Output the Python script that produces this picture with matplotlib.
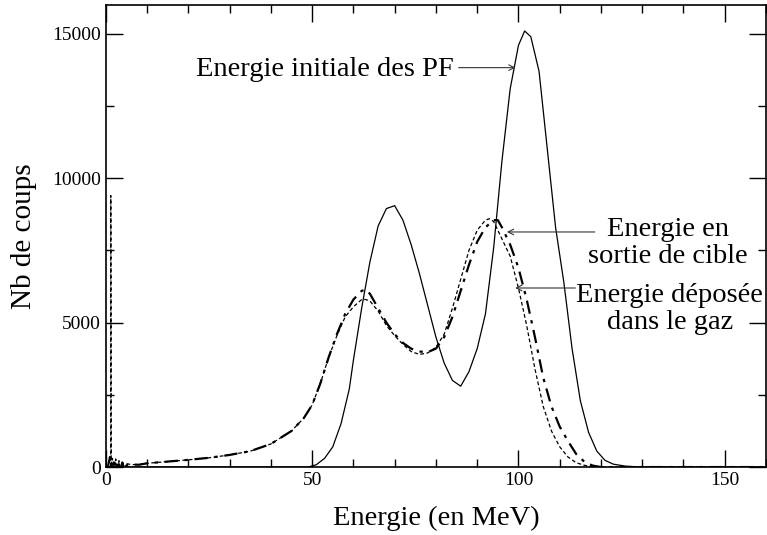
import numpy as np
import matplotlib
matplotlib.use("Agg")
import matplotlib.pyplot as plt
from matplotlib.ticker import MultipleLocator

plt.rcParams['font.family'] = ['Liberation Serif', 'DejaVu Serif']

# 1. DATA
# Energie initiale des PF (solid)
x_init = [0, 49, 51, 53, 55, 57, 59, 60, 62, 64, 66, 68, 70, 72, 74, 76, 78, 80,
          82, 84, 86, 88, 90, 92, 94, 96, 98, 100, 101.5, 103, 105, 107, 109,
          111, 113, 115, 117, 119, 121, 123, 126, 130, 160]
y_init = [0, 0, 80, 300, 700, 1500, 2700, 3700, 5500, 7100, 8350, 8950, 9050,
          8550, 7700, 6700, 5600, 4500, 3600, 3000, 2800, 3300, 4100, 5300, 7600,
          10600, 13100, 14600, 15100, 14900, 13700, 11000, 8300, 6400, 4100, 2300,
          1200, 550, 230, 100, 30, 0, 0]

# Energie en sortie de cible (dashed)
x_sortie = [1.2, 1.2, 1.3, 1.6, 2.0, 2.4, 2.8, 3.2, 3.6, 4.0, 4.5, 5, 6, 8, 10,
            15, 20, 25, 30, 35, 40, 45, 48, 50, 52, 54, 56, 58, 60, 62, 63, 64,
            66, 68, 70, 72, 74, 76, 78, 80, 82, 84, 86, 88, 90, 92, 93, 94, 96,
            98, 100, 102, 104, 106, 108, 110, 112, 114, 116, 118, 120, 160]
y_sortie = [0, 9400, 0, 300, -250, 280, -200, 220, -150, 180, -80, 120, 90, 80,
            130, 190, 250, 320, 420, 550, 800, 1250, 1700, 2150, 2900, 3800, 4550,
            5200, 5550, 5800, 5800, 5750, 5400, 4900, 4550, 4250, 4000, 3900, 3950,
            4150, 4600, 5500, 6500, 7500, 8200, 8550, 8600, 8500, 7900, 7300, 6200,
            4900, 3400, 2100, 1250, 700, 350, 150, 60, 20, 0, 0]

# Energie deposee dans le gaz (dash-dot)
x_depot = [0.5, 1.0, 1.5, 2.0, 2.5, 3.0, 3.5, 4.0, 4.5, 5, 6, 8, 10, 15, 20, 25,
           30, 35, 40, 45, 48, 50, 52, 54, 56, 58, 60, 62, 63, 64, 66, 68, 70, 72,
           74, 76, 78, 80, 82, 84, 86, 88, 90, 92, 94, 95, 96, 98, 100, 102, 104,
           106, 108, 110, 112, 114, 116, 118, 120, 160]
y_depot = [0, 350, -300, 300, -250, 230, -180, 160, -100, 60, 90, 80, 130, 190,
           250, 320, 420, 550, 800, 1250, 1700, 2150, 2900, 3800, 4600, 5300, 5800,
           6100, 6150, 6000, 5500, 5000, 4600, 4300, 4100, 4000, 3980, 4100, 4500,
           5200, 6100, 7000, 7800, 8300, 8550, 8550, 8300, 7700, 6900, 5800, 4500,
           3100, 2100, 1400, 900, 450, 180, 50, 0, 0]

x_ticks = [0, 50, 100, 150]
y_ticks = [0, 5000, 10000, 15000]

# 2. FIGURE
fig = plt.figure(figsize=(7.67, 5.35), dpi=100)
ax = fig.add_axes([0.138, 0.127, 0.8607, 0.8637])

ax.plot(x_init, y_init, color='black', linewidth=0.9)
ax.plot(x_sortie, y_sortie, color='black', linewidth=0.9, linestyle=(0, (3, 2)))
ax.plot(x_depot, y_depot, color='black', linewidth=1.6, linestyle=(0, (6, 3, 1.5, 3)))

ax.set_xlim(0, 160)
ax.set_ylim(0, 16000)
ax.set_xticks(x_ticks)
ax.set_yticks(y_ticks)
ax.xaxis.set_minor_locator(MultipleLocator(10))
ax.yaxis.set_minor_locator(MultipleLocator(2500))
ax.tick_params(which='both', direction='in', top=True, right=True, labelsize=14,
               width=1.0)
ax.tick_params(which='major', length=12)
ax.tick_params(which='minor', length=6)
for s in ax.spines.values():
    s.set_linewidth(1.2)

ax.set_xlabel('Energie (en MeV)', fontsize=20.5, labelpad=12)
ax.set_ylabel('Nb de coups', fontsize=21, labelpad=11)

# 3. ANNOTATIONS
arrow = dict(arrowstyle='->', color='#333333', lw=0.8, shrinkA=0, shrinkB=0)
ax.annotate('', xy=(99.3, 13830), xytext=(85.5, 13830), arrowprops=arrow)
ax.text(84.2, 13760, 'Energie initiale des PF', fontsize=20.5, ha='right', va='center')

ax.annotate('', xy=(97.2, 8140), xytext=(118.5, 8140), arrowprops=arrow)
ax.text(136.3, 7760, 'Energie en\nsortie de cible', fontsize=20.5, ha='center',
        va='center', linespacing=1.1)

ax.annotate('', xy=(99.2, 6200), xytext=(113.8, 6200), arrowprops=arrow)
ax.text(136.7, 5460, 'Energie déposée\ndans le gaz', fontsize=20.5, ha='center',
        va='center', linespacing=1.1)

fig.savefig('out.png', dpi=100)
